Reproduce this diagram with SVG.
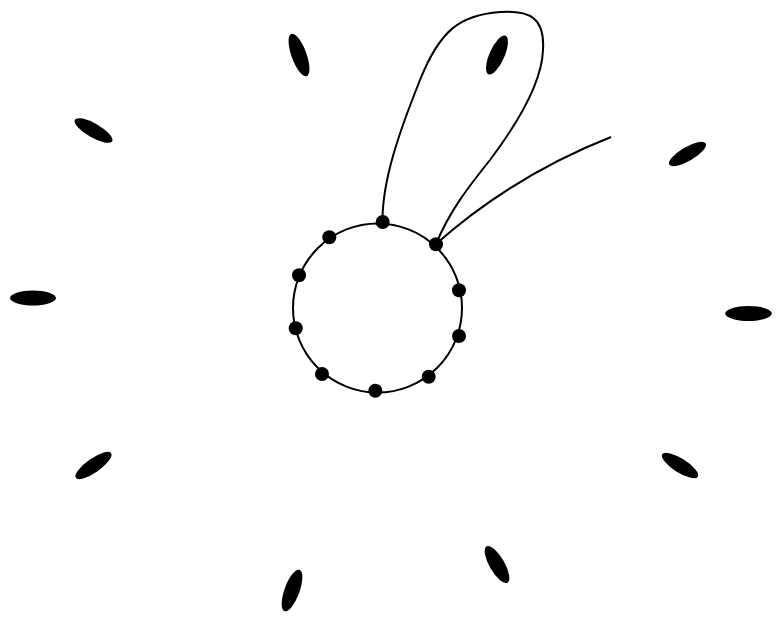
<svg xmlns="http://www.w3.org/2000/svg" width="776" height="617" viewBox="0 0 776 617">
<style>
.pet{fill:#000}
.dot{fill:#000}
.edge{fill:none;stroke:#000;stroke-width:2}
</style>
<rect width="776" height="617" fill="#fff"/>
<g id="petals">
<ellipse id="p1" class="pet" cx="299" cy="55" rx="22.5" ry="7.5" transform="rotate(70 299 55)"/>
<ellipse id="p2" class="pet" cx="497" cy="55" rx="21" ry="7.5" transform="rotate(-66 497 55)"/>
<ellipse id="p3" class="pet" cx="93.5" cy="130.5" rx="21.5" ry="7" transform="rotate(30 93.5 130.5)"/>
<ellipse id="p4" class="pet" cx="687.5" cy="154" rx="21" ry="7" transform="rotate(-30 687.5 154)"/>
<ellipse id="p5" class="pet" cx="33" cy="298" rx="23" ry="7.5"/>
<ellipse id="p6" class="pet" cx="748.5" cy="313.5" rx="23.3" ry="7.5"/>
<ellipse id="p7" class="pet" cx="93.5" cy="465.5" rx="21.5" ry="7" transform="rotate(-35 93.5 465.5)"/>
<ellipse id="p8" class="pet" cx="680" cy="465.5" rx="21" ry="7" transform="rotate(32 680 465.5)"/>
<ellipse id="p9" class="pet" cx="292" cy="590.5" rx="22" ry="7.5" transform="rotate(-70 292 590.5)"/>
<ellipse id="p10" class="pet" cx="497" cy="564.5" rx="21" ry="7.5" transform="rotate(60 497 564.5)"/>
</g>
<g id="connectors">
<circle class="edge" cx="377.5" cy="308" r="84.5"/>
<path class="edge" d="M 382.5 222 C 382 180, 400 130, 420 80 C 440 30, 460 15, 500 12 C 530 10, 545 18, 543 50 C 542 80, 520 120, 490 160 C 470 185, 450 210, 436 244"/>
<path class="edge" d="M 436 244 C 480 205, 540 165, 611 137"/>
</g>
<g id="nodes">
<circle id="n1" class="dot" cx="382.7" cy="222" r="7"/>
<circle id="n2" class="dot" cx="329.3" cy="237.3" r="7"/>
<circle id="n3" class="dot" cx="299" cy="275.3" r="7"/>
<circle id="n4" class="dot" cx="295.7" cy="328.3" r="7"/>
<circle id="n5" class="dot" cx="322" cy="374" r="7"/>
<circle id="n6" class="dot" cx="375.3" cy="390.7" r="7"/>
<circle id="n7" class="dot" cx="428.7" cy="376.7" r="7"/>
<circle id="n8" class="dot" cx="459" cy="336" r="7"/>
<circle id="n9" class="dot" cx="459" cy="290.3" r="7"/>
<circle id="n10" class="dot" cx="436" cy="244.3" r="7"/>
</g>
</svg>
